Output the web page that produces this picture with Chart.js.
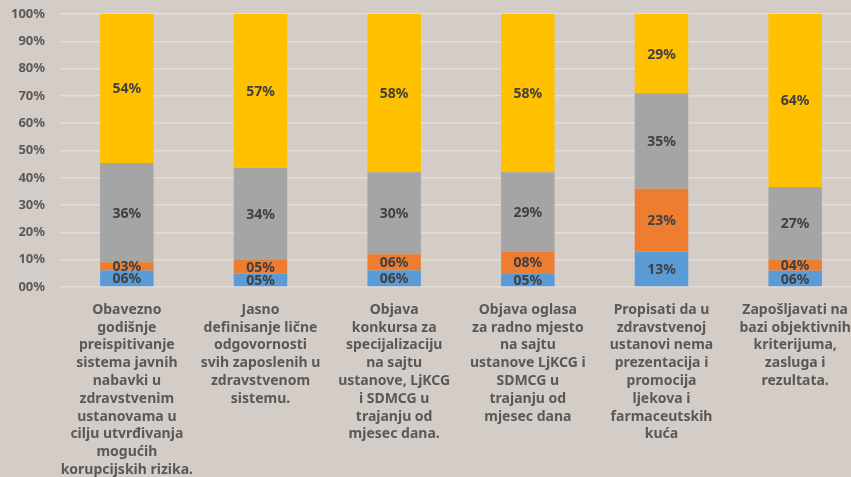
<!DOCTYPE html>
<html>
<head>
<meta charset="utf-8">
<script src="https://cdn.jsdelivr.net/npm/chart.js@4"></script>
<style>
  html, body { margin: 0; padding: 0; background: #d4cdc7; overflow: hidden; }
  .wrap { width: 862px; height: 477px; }
</style>
</head>
<body>
<div class="wrap"><canvas id="chart"></canvas></div>
<script>
// categories, one array of lines per bar
const categories = [
  ["Obavezno", "godišnje", "preispitivanje", "sistema javnih", "nabavki u", "zdravstvenim", "ustanovama u", "cilju utvrđivanja", "mogućih", "korupcijskih rizika."],
  ["Jasno", "definisanje lične", "odgovornosti", "svih zaposlenih u", "zdravstvenom", "sistemu."],
  ["Objava", "konkursa za", "specijalizaciju", "na sajtu", "ustanove, LjKCG", "i SDMCG u", "trajanju od", "mjesec dana."],
  ["Objava oglasa", "za radno mjesto", "na sajtu", "ustanove LjKCG i", "SDMCG u", "trajanju od", "mjesec dana"],
  ["Propisati da u", "zdravstvenoj", "ustanovi nema", "prezentacija i", "promocija", "ljekova i", "farmaceutskih", "kuća"],
  ["Zapošljavati na", "bazi objektivnih", "kriterijuma,", "zasluga i", "rezultata."]
];

// series (percent as shown on the labels)
const blueVals   = [6, 5, 6, 5, 13, 6];
const orangeVals = [3, 5, 6, 8, 23, 4];
const grayVals   = [36, 34, 30, 29, 35, 27];
const yellowVals = [54, 57, 58, 58, 29, 64];

const yTicks = ["00%", "10%", "20%", "30%", "40%", "50%", "60%", "70%", "80%", "90%", "100%"];

const series = [
  { vals: blueVals, color: "#5b9bd5" },
  { vals: orangeVals, color: "#ed7d31" },
  { vals: grayVals, color: "#a5a5a5" },
  { vals: yellowVals, color: "#ffc000" }
];

const FONT = "'Noto Sans'";

// 100% stacked: share of each bar's total
const totals = categories.map((c, i) => series.reduce((s, d) => s + d.vals[i], 0));

const datasets = series.map(s => ({
  data: s.vals.map((v, i) => v / totals[i] * 100),
  raw: s.vals,
  backgroundColor: s.color,
  borderWidth: 0,
  barPercentage: 0.8,
  categoryPercentage: 0.5
}));

// draws the value labels in the middle of each segment
const segLabels = {
  id: "segLabels",
  afterDatasetsDraw(chart) {
    const ctx = chart.ctx;
    ctx.save();
    ctx.font = "bold 14px " + FONT;
    ctx.fillStyle = "#404040";
    ctx.textAlign = "center";
    ctx.textBaseline = "middle";
    chart.data.datasets.forEach((ds, di) => {
      chart.getDatasetMeta(di).data.forEach((bar, i) => {
        const y = (bar.y + bar.base) / 2;
        ctx.fillText(String(ds.raw[i]).padStart(2, "0") + "%", bar.x, y + 1);
      });
    });
    ctx.restore();
  }
};

new Chart(document.getElementById("chart"), {
  type: "bar",
  data: { labels: categories, datasets: datasets },
  plugins: [segLabels],
  options: {
    responsive: true,
    maintainAspectRatio: false,
    animation: false,
    layout: { padding: { top: 14, right: 0, left: 0, bottom: 0 } },
    plugins: { legend: { display: false }, tooltip: { enabled: false } },
    scales: {
      x: {
        stacked: true,
        grid: { display: false },
        border: { display: false },
        ticks: {
          autoSkip: false,
          maxRotation: 0,
          padding: 6,
          color: "#595959",
          font: { family: FONT, size: 14, weight: "bold", lineHeight: 1.27 }
        },
        afterFit: s => { s.height = 190; }
      },
      y: {
        stacked: true,
        min: 0,
        max: 100,
        border: { display: false },
        grid: { color: "#e2ddd9", lineWidth: 1.5, drawTicks: false },
        ticks: {
          stepSize: 10,
          padding: 15,
          color: "#595959",
          font: { family: FONT, size: 13, weight: "bold" },
          callback: (v, i) => yTicks[i]
        },
        afterFit: s => { s.width = 60; s.paddingTop = 0; s.paddingBottom = 0; }
      }
    }
  }
});
</script>
</body>
</html>
